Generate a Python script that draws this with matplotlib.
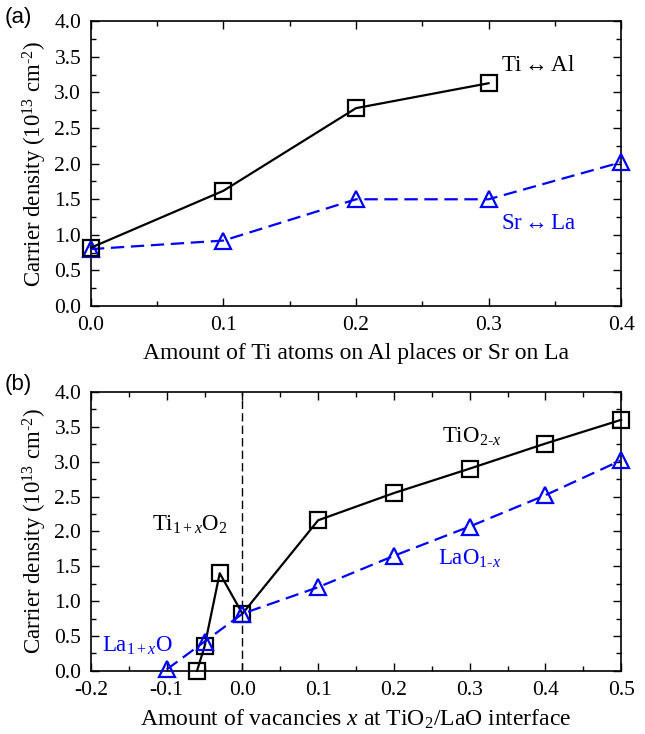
import matplotlib
matplotlib.use("Agg")
import matplotlib.pyplot as plt
from matplotlib.ticker import MultipleLocator, FormatStrFormatter

plt.rcParams['font.family'] = ['Liberation Serif', 'DejaVu Serif']
plt.rcParams['mathtext.fontset'] = 'custom'
plt.rcParams['mathtext.rm'] = 'Liberation Serif'
plt.rcParams['mathtext.it'] = 'Liberation Serif:italic'
plt.rcParams['axes.unicode_minus'] = False

# Panel (a)
a_ti_x = [0.0, 0.1, 0.2, 0.3]
a_ti_y = [0.82, 1.62, 2.78, 3.13]
a_sr_x = [0.0, 0.1, 0.2, 0.3, 0.4]
a_sr_y = [0.80, 0.92, 1.50, 1.50, 2.02]

# Panel (b)
b_ti_x = [-0.06, -0.05, -0.03, 0.0, 0.1, 0.2, 0.3, 0.4, 0.5]
b_ti_y = [0.0, 0.35, 1.40, 0.82, 2.16, 2.55, 2.90, 3.26, 3.60]
b_la_x = [-0.1, -0.05, 0.0, 0.1, 0.2, 0.3, 0.4, 0.5]
b_la_y = [0.02, 0.42, 0.82, 1.20, 1.65, 2.07, 2.52, 3.02]

fig = plt.figure(figsize=(6.45, 7.34), dpi=100)
axa = fig.add_axes([0.141, 0.583, 0.822, 0.388])
axb = fig.add_axes([0.141, 0.086, 0.822, 0.380])

blue = '#0000ff'
for ax in (axa, axb):
    ax.tick_params(which='both', direction='in', top=True, right=True, labelsize=15.5)
    ax.tick_params(which='major', length=6, width=1, pad=7)
    ax.tick_params(which='minor', length=3.5, width=1)
    ax.yaxis.set_major_locator(MultipleLocator(0.5))
    ax.yaxis.set_minor_locator(MultipleLocator(0.25))
    ax.yaxis.set_major_formatter(FormatStrFormatter('%.1f'))
    ax.xaxis.set_major_formatter(FormatStrFormatter('%.1f'))
    ax.set_ylim(0, 4.0)
    ax.set_ylabel('Carrier density (10$^{13}$ cm$^{\\text{-}2}$)', fontsize=16.5, labelpad=4)
    for s in ax.spines.values():
        s.set_linewidth(1.2)

mk = dict(markersize=11, markerfacecolor='none', markeredgewidth=1.6, linewidth=1.6, clip_on=False)

axa.plot(a_sr_x, a_sr_y, '--', color=blue, marker='^', dashes=(6, 3), **mk, zorder=3)
axa.plot(a_ti_x, a_ti_y, '-', color='black', marker='s', **mk, zorder=4)
axa.set_xlim(0, 0.4)
axa.xaxis.set_major_locator(MultipleLocator(0.1))
axa.xaxis.set_minor_locator(MultipleLocator(0.05))
axa.set_xlabel('Amount of Ti atoms on Al places or Sr on La', fontsize=17, labelpad=6)
axa.text(0.309, 3.38, 'Ti$\\leftrightarrow$Al', fontsize=16.5, color='black', va='center', ha='left')
axa.text(0.309, 1.16, 'Sr$\\leftrightarrow$La', fontsize=16.5, color=blue, va='center', ha='left')

axb.axvline(0.0, color='black', linestyle='--', linewidth=1.0, dashes=(6, 3), zorder=1)
axb.plot(b_la_x, b_la_y, '--', color=blue, marker='^', dashes=(6, 3), **mk, zorder=3)
axb.plot(b_ti_x, b_ti_y, '-', color='black', marker='s', **mk, zorder=2)
axb.set_xlim(-0.2, 0.5)
axb.xaxis.set_major_locator(MultipleLocator(0.1))
axb.xaxis.set_minor_locator(MultipleLocator(0.05))
axb.set_xlabel('Amount of vacancies $x$ at TiO$_2$/LaO interface', fontsize=17, labelpad=6)
axb.text(0.264, 3.36, 'TiO$_{2\\text{-}x}$', fontsize=16.5, color='black', va='center', ha='left')
axb.text(0.258, 1.60, 'LaO$_{1\\text{-}x}$', fontsize=16.5, color=blue, va='center', ha='left')
axb.text(-0.12, 2.1, 'Ti$_{1+x}$O$_2$', fontsize=16.5, color='black', va='center', ha='left')
axb.text(-0.185, 0.36, 'La$_{1+x}$O', fontsize=16.5, color=blue, va='center', ha='left')

fig.text(0.007, 0.976, '(a)', fontsize=16, family='Liberation Sans', va='center', ha='left')
fig.text(0.007, 0.476, '(b)', fontsize=16, family='Liberation Sans', va='center', ha='left')

fig.savefig('out.png', dpi=100)
